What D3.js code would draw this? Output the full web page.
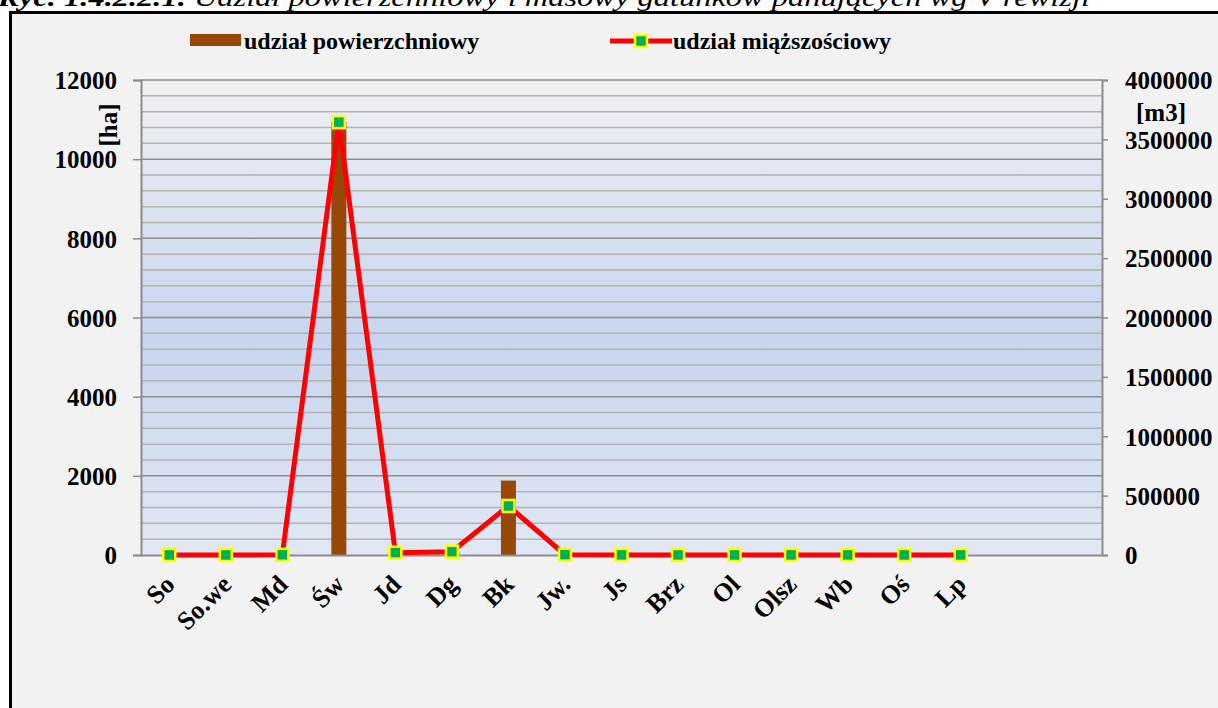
<!DOCTYPE html>
<html><head><meta charset="utf-8">
<script src="https://cdn.jsdelivr.net/npm/d3@7"></script>
<style>
html,body{margin:0;padding:0;background:#fff;}
svg{display:block;}
</style></head>
<body>
<svg id="c" width="1218" height="708"></svg>
<script>
const categories = ["So","So.we","Md","Św","Jd","Dg","Bk","Jw.","Js","Brz","Ol","Olsz","Wb","Oś","Lp"];
const areaHa = [3, 2, 8, 10950, 60, 80, 1880, 10, 4, 2, 2, 3, 2, 2, 1];
const volumeM3 = [500, 300, 1500, 3645000, 20000, 28000, 413000, 3000, 1000, 500, 500, 800, 500, 500, 300];
const leftTicks = [0, 2000, 4000, 6000, 8000, 10000, 12000];
const rightTicks = [0, 500000, 1000000, 1500000, 2000000, 2500000, 3000000, 3500000, 4000000];
const slots = categories.concat(["", " "]);

const FONT = '"Liberation Serif", "Times New Roman", serif';
const svg = d3.select("#c");
const W = 1218, H = 708;
const L = 141, R = 1102, T = 80, B = 555;

// frame
svg.append("rect").attr("x",0).attr("y",0).attr("width",W).attr("height",H).attr("fill","#fff");
svg.append("rect").attr("x",10.5).attr("y",12.5).attr("width",1230).attr("height",720)
  .attr("fill","#f2f2f2").attr("stroke","#000").attr("stroke-width",3);

// title (cut off at top, as in the reference)
const title = svg.append("text").attr("x",-2).attr("y",6).attr("font-size",26).attr("font-style","italic")
  .attr("textLength",1092).attr("lengthAdjust","spacingAndGlyphs");
title.append("tspan").attr("font-weight","bold").text("Ryc. 1.4.2.2.1. ");
title.append("tspan").text("Udział powierzchniowy i masowy gatunków panujących wg V rewizji");

const x = d3.scaleBand().domain(slots).range([L, R]).paddingInner(0).paddingOuter(0);
const yL = d3.scaleLinear().domain([0, 12000]).range([B, T]);
const yR = d3.scaleLinear().domain([0, 4000000]).range([B, T]);

// gradient
const defs = svg.append("defs");
const g = defs.append("linearGradient").attr("id","bg").attr("x1",0).attr("y1",0).attr("x2",0).attr("y2",1);
g.append("stop").attr("offset","0%").attr("stop-color","#eff0f3");
g.append("stop").attr("offset","55%").attr("stop-color","#c7d5ee");
g.append("stop").attr("offset","100%").attr("stop-color","#e1e8f4");
svg.append("rect").attr("x",L).attr("y",T).attr("width",R-L).attr("height",B-T).attr("fill","url(#bg)");

// gridlines
const minor = d3.range(400, 12001, 400).filter(v => v % 2000 !== 0);
svg.append("g").selectAll("line").data(minor).join("line")
  .attr("x1",L).attr("x2",R).attr("y1",d=>yL(d)).attr("y2",d=>yL(d))
  .attr("stroke","#b2b2b2").attr("stroke-width",1.5);
svg.append("g").selectAll("line").data(leftTicks.filter(d=>d>0)).join("line")
  .attr("x1",L).attr("x2",R).attr("y1",d=>yL(d)).attr("y2",d=>yL(d))
  .attr("stroke","#8c8c8c").attr("stroke-width",1.5);

// bars
const bw = 15;
svg.append("g").selectAll("rect").data(categories).join("rect")
  .attr("x", d => x(d) + x.bandwidth()/2 - bw/2)
  .attr("y", (d,i) => yL(areaHa[i]))
  .attr("width", bw)
  .attr("height", (d,i) => B - yL(areaHa[i]))
  .attr("fill","#974806");

// axes
const axL = d3.axisLeft(yL).tickValues(leftTicks).tickSize(8).tickPadding(16).tickFormat(d3.format("d"));
const gL = svg.append("g").attr("transform",`translate(${L},0)`).call(axL);
const axR = d3.axisRight(yR).tickValues(rightTicks).tickSize(6).tickPadding(17).tickFormat(d3.format("d"));
const gR = svg.append("g").attr("transform",`translate(${R},0)`).call(axR);
const axB = d3.axisBottom(x).tickSize(0).tickFormat(d => d.trim());
const gB = svg.append("g").attr("transform",`translate(0,${B})`).call(axB);
[gL,gR,gB].forEach(a => {
  a.attr("font-family", null).attr("font-size", null);
  a.select(".domain").attr("stroke","#8c8c8c").attr("stroke-width",2);
  a.selectAll(".tick line").attr("stroke","#8c8c8c").attr("stroke-width",1.5);
  a.selectAll("text").style("font-weight","bold").style("font-size","25px").attr("fill","#000");
});
gL.selectAll(".tick text").attr("dy","0.35em");
gR.selectAll(".tick text").attr("dy","0.35em");
gB.selectAll(".tick text")
  .style("font-size","26px")
  .attr("text-anchor","end")
  .attr("dy",null).attr("y",0)
  .attr("transform","translate(7,31) rotate(-45)");

// line
const line = d3.line().x((d,i) => x(categories[i]) + x.bandwidth()/2).y(d => yR(d));
svg.append("path").datum(volumeM3).attr("d", line).attr("fill","none")
  .attr("stroke","#ff0000").attr("stroke-width",5).attr("stroke-linejoin","miter");
svg.append("g").selectAll("rect").data(volumeM3).join("rect")
  .attr("x",(d,i) => x(categories[i]) + x.bandwidth()/2 - 6)
  .attr("y",d => yR(d) - 6)
  .attr("width",12).attr("height",12)
  .attr("fill","#00b050").attr("stroke","#ffff00").attr("stroke-width",2.5);

// axis unit labels
svg.append("text").attr("transform","translate(117,125) rotate(-90)").attr("text-anchor","middle")
  .style("font-size","25px").style("font-weight","bold").text("[ha]");
svg.append("text").attr("x",1161).attr("y",121).attr("text-anchor","middle")
  .style("font-size","25px").style("font-weight","bold").text("[m3]");

// legend
svg.append("rect").attr("x",190).attr("y",34).attr("width",51).attr("height",12).attr("fill","#974806");
svg.append("text").attr("x",244).attr("y",49).style("font-size","24px").style("font-weight","bold").text("udział powierzchniowy");
svg.append("line").attr("x1",610).attr("x2",672).attr("y1",41).attr("y2",41).attr("stroke","#ff0000").attr("stroke-width",5);
svg.append("rect").attr("x",635).attr("y",35).attr("width",12).attr("height",12)
  .attr("fill","#00b050").attr("stroke","#ffff00").attr("stroke-width",2.5);
svg.append("text").attr("x",673).attr("y",49).style("font-size","24px").style("font-weight","bold").text("udział miąższościowy");

svg.selectAll("text").style("font-family", FONT);
</script>
</body></html>
